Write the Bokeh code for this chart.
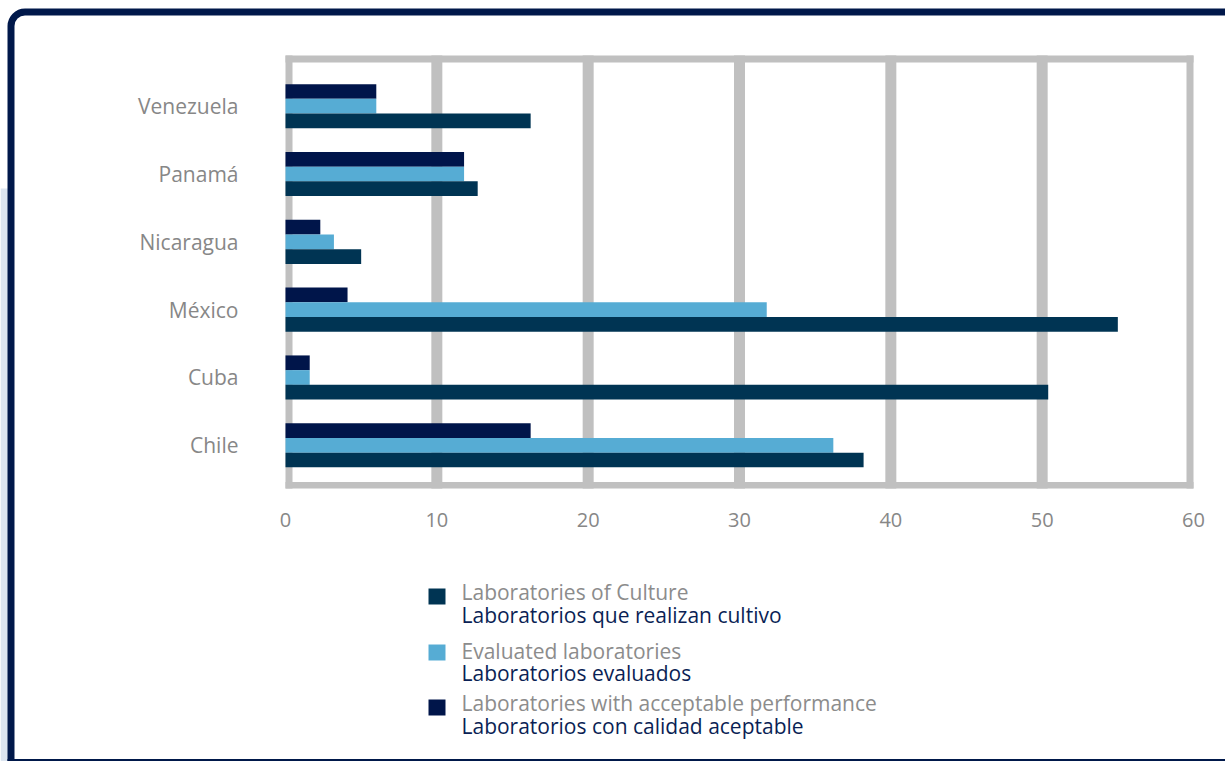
from bokeh.plotting import figure
from bokeh.models import Range1d, BoxAnnotation, ColumnDataSource
from bokeh.core.properties import value
from bokeh.transform import dodge
from bokeh.embed import file_html
from bokeh.resources import INLINE

# Countries, bottom to top
countries = ["Chile", "Cuba", "México", "Nicaragua", "Panamá", "Venezuela"]
culture = [38.2, 50.4, 55.0, 5.0, 12.7, 16.2]        # Laboratorios que realizan cultivo
evaluated = [36.2, 1.6, 31.8, 3.2, 11.8, 6.0]        # Laboratorios evaluados
acceptable = [16.2, 1.6, 4.1, 2.3, 11.8, 6.0]        # Laboratorios con calidad aceptable
x_ticks = [0, 10, 20, 30, 40, 50, 60]

series_en = ["Laboratories of Culture", "Evaluated laboratories",
             "Laboratories with acceptable performance"]
series_es = ["Laboratorios que realizan cultivo", "Laboratorios evaluados",
             "Laboratorios con calidad aceptable"]

C_CULTURE = "#003453"
C_EVAL = "#56acd4"
C_ACCEPT = "#00154a"
GRID = "#c0c0c0"
NAVY = "#00184a"
TICK_GREY = "#878787"
FONT = value("Open Sans")

W, H = 1225, 761
# plot area on the page (pixels): left, right, top, bottom
PL, PR, PT, PB = 285, 1193, 55, 488
# vertical placement of the first (bottom) and last (top) country groups
Y_FIRST, Y_LAST = 444.8, 105.7

# value scale spread so that x_ticks[0]..x_ticks[-1] spans the plot area
sx = (PR - PL) / (x_ticks[-1] - x_ticks[0])
val_range = Range1d(x_ticks[0] - PL / sx, x_ticks[-1] + (W - PR) / sx)
# category scale: index 0 .. n-1, bottom to top
n = len(countries)
sy = (Y_FIRST - Y_LAST) / (n - 1)
cat_range = Range1d(-(H - Y_FIRST) / sy, (n - 1) + Y_LAST / sy)

# page coordinates in pixels (y grows downwards)
p = figure(width=W, height=H, x_range=Range1d(0, W), y_range=Range1d(H, 0),
           output_backend="svg", toolbar_location=None,
           min_border=0, min_border_left=0, min_border_right=0,
           min_border_top=0, min_border_bottom=0)
p.extra_x_ranges = {"val": val_range}
p.extra_y_ranges = {"cat": cat_range}
p.axis.visible = False
p.grid.visible = False
p.outline_line_color = None
p.background_fill_color = "white"
p.border_fill_color = "white"


def canvas_box(l, r, t, b, **kw):
    return BoxAnnotation(left=l, right=r, top=t, bottom=b,
                         left_units="canvas", right_units="canvas",
                         top_units="canvas", bottom_units="canvas", **kw)


# page decoration: light band and navy frame
p.add_layout(canvas_box(0, 9, 188, H, fill_color="#dce5f0", fill_alpha=1,
                        line_color=None, level="underlay"))
p.add_layout(canvas_box(10.5, W + 40, 11.5, H + 40, fill_color=None,
                        line_color=NAVY, line_width=7, line_alpha=1,
                        border_radius=14, level="underlay"))
p.add_layout(canvas_box(7, W, H - 2.5, H, fill_color=NAVY, fill_alpha=1,
                        line_color=None, level="underlay"))

# gray plot-area border
for l, r, t, b in [(PL, PR, PT, PT + 7), (PL, PR, PB - 6.5, PB),
                   (PL, PL + 7, PT, PB), (PR - 7, PR, PT, PB)]:
    p.add_layout(canvas_box(l, r, t, b, fill_color=GRID, fill_alpha=1,
                            line_color=None, level="underlay"))

# vertical grid lines at the inner ticks
inner = x_ticks[1:-1]
p.segment(x0=inner, x1=inner, y0=[PT] * len(inner), y1=[PB] * len(inner),
          x_range_name="val", line_color=GRID, line_width=11, level="underlay")

# bars
src = ColumnDataSource(dict(pos=list(range(n)), culture=culture,
                            evaluated=evaluated, acceptable=acceptable))
bh = 0.2168
p.hbar(y=dodge("pos", bh, range=cat_range), left=0, right="acceptable",
       height=bh, source=src, fill_color=C_ACCEPT, line_color=None,
       x_range_name="val", y_range_name="cat")
p.hbar(y="pos", left=0, right="evaluated",
       height=bh, source=src, fill_color=C_EVAL, line_color=None,
       x_range_name="val", y_range_name="cat")
p.hbar(y=dodge("pos", -bh, range=cat_range), left=0, right="culture",
       height=bh, source=src, fill_color=C_CULTURE, line_color=None,
       x_range_name="val", y_range_name="cat")

# tick labels
p.text(x=x_ticks, y=[519] * len(x_ticks), text=[str(t) for t in x_ticks],
       x_range_name="val", text_font=FONT, text_font_size="20px",
       text_color=TICK_GREY, text_align="center", text_baseline="middle")
src_lab = ColumnDataSource(dict(x=[PL - 47] * n, pos=list(range(n)),
                                name=countries))
p.text(x="x", y="pos", text="name", source=src_lab, y_range_name="cat",
       text_font=FONT, text_font_size="21px", text_color=TICK_GREY,
       text_align="right", text_baseline="middle")

# legend
sw_top = [588, 644, 699]
en_base = [591, 650, 702]
es_base = [614, 672, 725]
colors = [C_CULTURE, C_EVAL, C_ACCEPT]
p.rect(x=[436.5] * 3, y=[t + 8 for t in sw_top], width=17, height=16,
       fill_color=colors, line_color=None)
p.text(x=[461] * 3, y=en_base, text=series_en, text_font=FONT,
       text_font_size="21px", text_color="#8c8c8c", text_baseline="alphabetic")
p.text(x=[461] * 3, y=es_base, text=series_es, text_font=FONT,
       text_font_size="21px", text_color="#0b1f55", text_baseline="alphabetic")

open("out.html", "w").write(file_html(p, INLINE))
